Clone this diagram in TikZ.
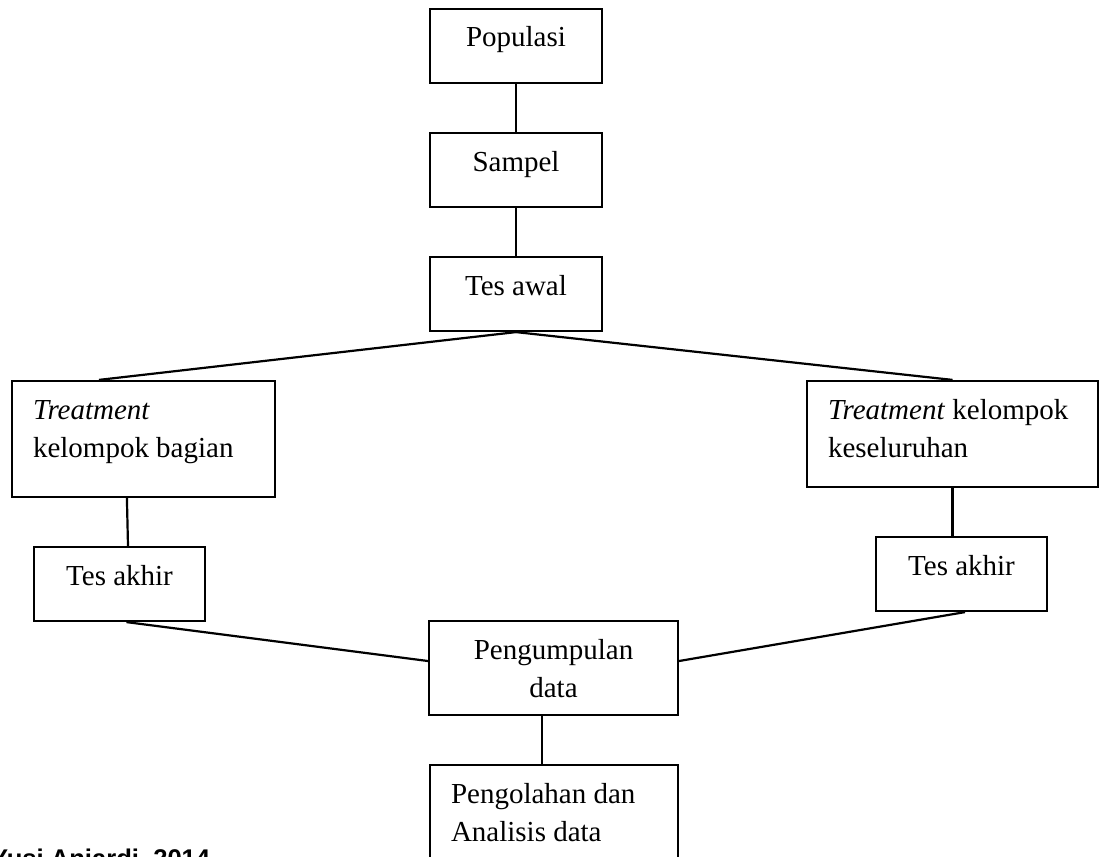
\documentclass[tikz,border=0pt]{standalone}
\usepackage{fontspec}
\setmainfont{Liberation Serif}
\newfontfamily\notefont{Liberation Sans}
\usepackage{tikz}
\usetikzlibrary{positioning,calc}
\newcommand{\boxtxt}[4]{\parbox[t][#2][t]{#1}{#3\rule{0pt}{38pt}#4}}
\newcommand{\lefttxt}{\raggedright\leftskip=21pt\relax}

\begin{document}
\begin{tikzpicture}[x=1pt,y=-1pt, line width=2.2pt, flow box/.style={rectangle,draw,inner sep=0pt,font=\fontsize{29}{38}\selectfont}]
\useasboundingbox (0,0) rectangle (1099,856);
\clip (0,0) rectangle (1099,856);
\begin{scope}
\node[flow box] (pop) at (516,46) {\boxtxt{172pt}{74pt}{\centering}{Populasi}};
\node[flow box] (sam) at (516,170) {\boxtxt{172pt}{74pt}{\centering}{Sampel}};
\node[flow box] (awal) at (516,294) {\boxtxt{172pt}{74pt}{\centering}{Tes awal}};
\node[flow box] (treatL) at (143.5,439) {\boxtxt{263pt}{116pt}{\lefttxt}{\textit{Treatment}\\kelompok bagian}};
\node[flow box] (treatR) at (952.5,434) {\boxtxt{291pt}{106pt}{\lefttxt}{\textit{Treatment} kelompok\\keseluruhan}};
\node[flow box] (akhirL) at (119.5,584) {\boxtxt{171pt}{74pt}{\centering}{Tes akhir}};
\node[flow box] (akhirR) at (961.5,574) {\boxtxt{171pt}{74pt}{\centering}{Tes akhir}};
\node[flow box] (kumpul) at (553.5,668) {\boxtxt{249pt}{94pt}{\centering}{Pengumpulan\\data}};
\node[flow box] (olah) at (554,820) {\boxtxt{248pt}{110pt}{\lefttxt}{Pengolahan dan\\Analisis data}};
\node[anchor=base west,inner sep=0pt,font=\notefont\bfseries\fontsize{25.6}{30}\selectfont] (src) at (-10,867) {Yusi Anjardi, 2014};
\end{scope}
\begin{scope}
\draw (pop) edge (sam);
\draw (sam) edge (awal);
\draw (awal.south) edge ([xshift=88pt]treatL.north west);
\draw (awal.south) edge (treatR.north);
\draw ([xshift=116pt]treatL.south west) edge ([xshift=8.5pt]akhirL.north);
\draw (treatR.south) edge (treatR.south |- akhirR.north);
\draw ([xshift=7pt]akhirL.south) edge ([yshift=7pt]kumpul.west);
\draw ([xshift=3.5pt]akhirR.south) edge ([yshift=7pt]kumpul.east);
\draw ([xshift=-11.5pt]kumpul.south) edge ([xshift=-11.5pt]kumpul.south |- olah.north);
\end{scope}
\end{tikzpicture}
\end{document}
